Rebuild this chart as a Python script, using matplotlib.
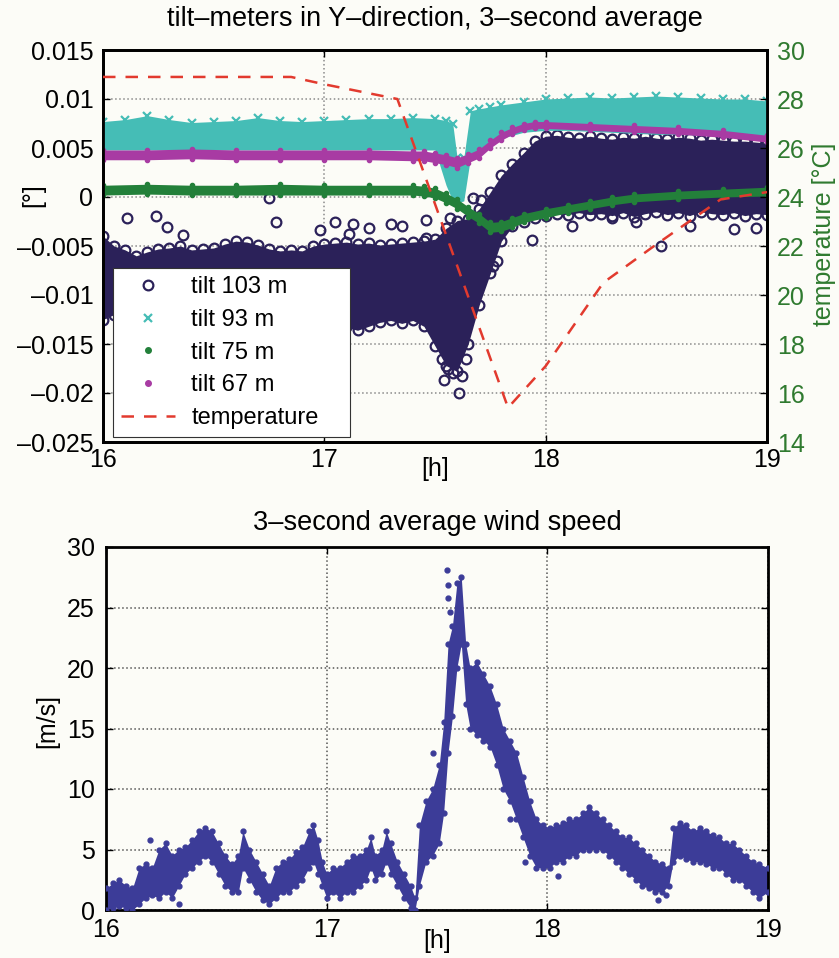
import numpy as np
import matplotlib
matplotlib.use("Agg")
import matplotlib.pyplot as plt
from matplotlib.lines import Line2D

plt.rcParams['font.family'] = ['Liberation Sans', 'DejaVu Sans']

# ---- tilt 103 m : dense band (upper / lower edge) + scattered outliers
t103 = [16.00, 16.05, 16.10, 16.15, 16.20, 16.25, 16.30, 16.35, 16.40, 16.45,
        16.50, 16.55, 16.60, 16.65, 16.70, 16.75, 16.80, 16.85, 16.90, 16.95,
        17.00, 17.05, 17.10, 17.15, 17.20, 17.25, 17.30, 17.35, 17.40, 17.45,
        17.50, 17.55, 17.60, 17.65, 17.70, 17.75, 17.80, 17.85, 17.90, 17.95,
        18.00, 18.05, 18.10, 18.15, 18.20, 18.25, 18.30, 18.35, 18.40, 18.45,
        18.50, 18.55, 18.60, 18.65, 18.70, 18.75, 18.80, 18.85, 18.90, 18.95,
        19.00]
hi103 = [-0.0040, -0.0050, -0.0054, -0.0060, -0.0056, -0.0053, -0.0052, -0.0050, -0.0054, -0.0053,
         -0.0052, -0.0048, -0.0045, -0.0046, -0.0049, -0.0053, -0.0055, -0.0054, -0.0055, -0.0050,
         -0.0048, -0.0047, -0.0046, -0.0048, -0.0047, -0.0049, -0.0048, -0.0047, -0.0046, -0.0045,
         -0.0043, -0.0032, -0.0024, -0.0022, -0.0012, 0.0005, 0.0022, 0.0034, 0.0045, 0.0057,
         0.0062, 0.0063, 0.0061, 0.0060, 0.0062, 0.0060, 0.0059, 0.0061, 0.0060, 0.0062,
         0.0060, 0.0059, 0.0061, 0.0060, 0.0058, 0.0059, 0.0058, 0.0057, 0.0057, 0.0056,
         0.0055]
lo103 = [-0.0125, -0.0120, -0.0113, -0.0112, -0.0112, -0.0112, -0.0112, -0.0112, -0.0112, -0.0112,
         -0.0112, -0.0112, -0.0112, -0.0112, -0.0112, -0.0112, -0.0115, -0.0118, -0.0120, -0.0122,
         -0.0125, -0.0128, -0.0133, -0.0136, -0.0132, -0.0128, -0.0126, -0.0129, -0.0126, -0.0132,
         -0.0152, -0.0172, -0.0178, -0.0150, -0.0110, -0.0078, -0.0045, -0.0030, -0.0025, -0.0021,
         -0.0019, -0.0017, -0.0018, -0.0016, -0.0018, -0.0017, -0.0019, -0.0016, -0.0020, -0.0017,
         -0.0015, -0.0018, -0.0016, -0.0019, -0.0015, -0.0017, -0.0018, -0.0016, -0.0019, -0.0017,
         -0.0018]
out103_t = [16.11, 16.24, 16.29, 16.36, 16.75, 16.78, 16.98, 17.05, 17.11, 17.13,
            17.20, 17.30, 17.35, 17.46, 17.46, 17.57, 17.67, 17.71, 17.54, 17.61,
            17.58, 17.62, 17.69, 17.72, 17.76, 17.78, 17.94, 18.30, 18.41, 18.52,
            18.85, 18.37, 18.96, 18.12, 18.65, 18.95, 17.53, 17.56, 17.64]
out103_v = [-0.0021, -0.0019, -0.0031, -0.0039, -0.0001, -0.0026, -0.0034, -0.0026, -0.0038, -0.0028,
            -0.0032, -0.0028, -0.0030, -0.0023, -0.0042, -0.0021, -0.0001, -0.0003, -0.0187, -0.0200,
            -0.0180, -0.0183, -0.0085, -0.0075, -0.0070, -0.0065, -0.0044, -0.0021, -0.0026, -0.0050,
            -0.0033, 0.0071, 0.0068, -0.0030, -0.0030, -0.0032, -0.0165, -0.0176, -0.0165]

# ---- tilt 93 m
t93 = [16.0, 16.1, 16.2, 16.3, 16.4, 16.5, 16.6, 16.7, 16.8, 16.9,
       17.0, 17.1, 17.2, 17.3, 17.4, 17.5, 17.55, 17.58, 17.60, 17.63,
       17.66, 17.70, 17.75, 17.80, 17.90, 18.0, 18.1, 18.2, 18.3, 18.4,
       18.5, 18.6, 18.7, 18.8, 18.9, 19.0]
hi93 = [0.0077, 0.0079, 0.0083, 0.0079, 0.0076, 0.0077, 0.0078, 0.0081, 0.0078, 0.0077,
        0.0078, 0.0079, 0.0080, 0.0080, 0.0081, 0.0080, 0.0078, 0.0075, 0.0040, 0.0040,
        0.0088, 0.0090, 0.0092, 0.0094, 0.0097, 0.0100, 0.0101, 0.0102, 0.0101, 0.0102,
        0.0103, 0.0102, 0.0101, 0.0100, 0.0100, 0.0098]
lo93 = [0.0048, 0.0048, 0.0048, 0.0048, 0.0048, 0.0048, 0.0048, 0.0048, 0.0048, 0.0048,
        0.0048, 0.0048, 0.0048, 0.0048, 0.0048, 0.0048, 0.0012, -0.0004, -0.0006, -0.0004,
        0.0040, 0.0045, 0.0052, 0.0060, 0.0066, 0.0068, 0.0068, 0.0067, 0.0066, 0.0065,
        0.0064, 0.0064, 0.0063, 0.0062, 0.0061, 0.0060]

# ---- tilt 75 m
t75 = [16.0, 16.2, 16.4, 16.6, 16.8, 17.0, 17.2, 17.4, 17.45, 17.5,
       17.55, 17.6, 17.65, 17.7, 17.75, 17.8, 17.85, 17.9, 18.0, 18.1,
       18.2, 18.3, 18.4, 18.6, 18.8, 19.0]
hi75 = [0.0012, 0.0013, 0.0012, 0.0012, 0.0013, 0.0012, 0.0012, 0.0012, 0.0011, 0.0009,
        0.0004, -0.0002, -0.0010, -0.0017, -0.0026, -0.0025, -0.0021, -0.0017, -0.0012, -0.0008,
        -0.0004, 0.0000, 0.0003, 0.0006, 0.0008, 0.0010]
lo75 = [0.0002, 0.0003, 0.0002, 0.0002, 0.0002, 0.0002, 0.0002, 0.0002, 0.0001, -0.0001,
        -0.0006, -0.0012, -0.0020, -0.0027, -0.0036, -0.0035, -0.0031, -0.0026, -0.0021, -0.0016,
        -0.0012, -0.0008, -0.0005, -0.0002, 0.0000, 0.0001]

# ---- tilt 67 m
t67 = [16.0, 16.2, 16.4, 16.6, 16.8, 17.0, 17.2, 17.4, 17.45, 17.5,
       17.55, 17.6, 17.65, 17.7, 17.75, 17.8, 17.85, 17.9, 17.95, 18.0,
       18.2, 18.4, 18.6, 18.8, 19.0]
hi67 = [0.0048, 0.0048, 0.0049, 0.0048, 0.0048, 0.0048, 0.0048, 0.0047, 0.0047, 0.0045,
        0.0043, 0.0040, 0.0044, 0.0049, 0.0058, 0.0066, 0.0071, 0.0075, 0.0077, 0.0077,
        0.0075, 0.0073, 0.0071, 0.0068, 0.0063]
lo67 = [0.0038, 0.0038, 0.0039, 0.0038, 0.0038, 0.0038, 0.0038, 0.0037, 0.0037, 0.0035,
        0.0033, 0.0030, 0.0035, 0.0040, 0.0050, 0.0058, 0.0064, 0.0068, 0.0070, 0.0070,
        0.0068, 0.0066, 0.0064, 0.0061, 0.0056]

# ---- temperature
temp_t = [16.0, 16.85, 17.0, 17.33, 17.83, 18.0, 18.26, 18.49, 18.79, 19.0]
temp_c = [28.9, 28.9, 28.6, 28.0, 15.4, 17.1, 20.5, 22.0, 23.9, 24.2]

# ---- wind speed (band edges)
wind_t = [16.00, 16.03, 16.06, 16.09, 16.12, 16.15, 16.18, 16.21, 16.24, 16.27,
          16.30, 16.33, 16.36, 16.39, 16.42, 16.45, 16.48, 16.51, 16.54, 16.57,
          16.60, 16.62, 16.65, 16.68, 16.71, 16.74, 16.77, 16.80, 16.83, 16.86,
          16.89, 16.92, 16.94, 16.96, 16.98, 17.00, 17.03, 17.06, 17.09, 17.12,
          17.15, 17.18, 17.20, 17.22, 17.25, 17.27, 17.29, 17.32, 17.35, 17.38,
          17.40, 17.42, 17.45, 17.48, 17.51, 17.53, 17.55, 17.57, 17.59, 17.61,
          17.63, 17.65, 17.68, 17.71, 17.74, 17.77, 17.80, 17.83, 17.86, 17.89,
          17.92, 17.95, 17.98, 18.01, 18.04, 18.07, 18.10, 18.13, 18.16, 18.19,
          18.22, 18.25, 18.28, 18.31, 18.34, 18.37, 18.40, 18.43, 18.46, 18.49,
          18.52, 18.55, 18.57, 18.60, 18.63, 18.66, 18.69, 18.72, 18.75, 18.78,
          18.81, 18.84, 18.87, 18.90, 18.93, 18.96, 19.00]
wind_lo = [0.0, 0.2, 0.3, 0.2, 0.0, 0.5, 1.0, 1.2, 1.0, 1.5,
           1.0, 2.0, 3.0, 3.5, 4.0, 4.5, 4.0, 3.0, 2.0, 1.5,
           1.5, 3.5, 2.5, 1.5, 0.8, 0.5, 1.0, 1.5, 1.5, 2.0,
           2.5, 3.5, 4.0, 3.0, 2.0, 1.0, 1.5, 1.0, 1.5, 1.5,
           2.0, 2.5, 3.5, 2.5, 3.0, 4.0, 3.0, 2.0, 1.0, 0.2,
           0.0, 2.0, 4.0, 4.5, 5.5, 8.0, 13.0, 16.0, 20.0, 22.0,
           17.0, 15.0, 14.5, 14.0, 13.5, 12.0, 10.0, 9.0, 7.5, 6.0,
           4.5, 3.5, 3.5, 3.5, 4.0, 4.0, 4.5, 4.5, 5.0, 5.0,
           5.0, 5.0, 4.5, 4.0, 3.5, 3.0, 2.5, 2.0, 1.8, 1.5,
           1.5, 2.0, 4.0, 4.5, 4.2, 4.0, 4.0, 3.8, 3.5, 3.5,
           3.0, 2.5, 2.5, 2.0, 1.5, 1.0, 1.5]
wind_hi = [1.8, 2.2, 2.5, 2.0, 1.8, 3.5, 3.8, 3.5, 5.0, 5.5,
           4.5, 5.0, 5.2, 5.8, 6.5, 6.8, 6.5, 5.5, 4.5, 3.8,
           4.5, 6.5, 5.0, 4.0, 3.0, 2.0, 3.5, 4.0, 4.2, 4.8,
           5.2, 6.5, 7.0, 5.8, 4.0, 3.0, 3.5, 3.5, 4.0, 4.5,
           4.5, 5.0, 6.0, 4.5, 5.0, 6.5, 5.5, 4.0, 3.0, 2.0,
           1.0, 7.0, 9.0, 10.0, 12.0, 15.5, 22.0, 23.5, 27.0, 27.5,
           22.0, 20.0, 20.5, 19.5, 18.5, 17.0, 15.0, 14.0, 13.0, 11.0,
           9.0, 7.5, 7.0, 6.8, 7.0, 7.2, 7.5, 7.5, 8.0, 8.5,
           8.0, 7.5, 7.0, 6.5, 6.0, 6.0, 5.5, 5.0, 4.5, 4.0,
           3.8, 3.5, 6.8, 7.2, 7.0, 6.5, 6.8, 6.5, 6.2, 6.0,
           5.5, 5.5, 5.0, 4.5, 4.0, 3.8, 3.5]
wind_out_t = [17.545, 17.55, 17.55, 17.56, 17.48, 17.83, 17.90, 18.05, 18.50, 18.54, 16.20, 16.33]
wind_out_v = [28.1, 26.9, 25.8, 24.6, 13.0, 7.5, 4.0, 2.8, 0.8, 1.2, 5.8, 0.5]

c103 = '#2b2159'
c93 = '#45bdb6'
c75 = '#23803a'
c67 = '#a83ba3'
ctemp = '#e23a2e'
cwind = '#3c3c98'
cgreen_txt = '#2f7a2f'
bg = '#fcfcf7'
fs = 18        # tick labels
fs_title = 19.5
fs_leg = 17
dash = '\u2013'

fig = plt.figure(figsize=(8.39, 9.58), dpi=100, facecolor=bg)

# ================= top panel =================
ax = fig.add_axes([103 / 839, 1 - 442 / 958, 664 / 839, 392 / 958])
ax.set_facecolor(bg)

ax.fill_between(t103, lo103, hi103, color=c103, linewidth=0, zorder=2)
ax.plot(t103, hi103, 'o', ms=7, mfc='none', mec=c103, mew=1.6, zorder=2)
ax.plot(t103, lo103, 'o', ms=7, mfc='none', mec=c103, mew=1.6, zorder=2)
ax.plot(out103_t, out103_v, 'o', ms=7, mfc='none', mec=c103, mew=1.6, zorder=2)

ax.fill_between(t93, lo93, hi93, color=c93, linewidth=0, zorder=3)
ax.plot(t93, hi93, 'x', ms=6, mec=c93, mew=1.6, zorder=3)

ax.fill_between(t75, lo75, hi75, color=c75, linewidth=0, zorder=4)
ax.plot(t75, hi75, 'o', ms=3, mfc=c75, mec=c75, zorder=4)
ax.plot(t75, lo75, 'o', ms=3, mfc=c75, mec=c75, zorder=4)

ax.fill_between(t67, lo67, hi67, color=c67, linewidth=0, zorder=5)
ax.plot(t67, hi67, 'o', ms=3, mfc=c67, mec=c67, zorder=5)
ax.plot(t67, lo67, 'o', ms=3, mfc=c67, mec=c67, zorder=5)

ax.set_xlim(16, 19)
ax.set_ylim(-0.025, 0.015)
yt = [-0.025, -0.02, -0.015, -0.01, -0.005, 0, 0.005, 0.01, 0.015]
ax.set_yticks(yt)
ax.set_yticklabels([('%g' % v).replace('-', dash) for v in yt])
ax.set_xticks([16, 17, 18, 19])
ax.grid(True, linestyle=':', color='#8a8a8a', linewidth=1.1)
ax.tick_params(direction='in', length=5, width=1, labelsize=fs, top=True,
               pad=7)
ax.tick_params(axis='x', pad=4)
ax.set_title('tilt' + dash + 'meters in Y' + dash + 'direction, 3' + dash
             + 'second average', fontsize=fs_title, pad=17)
ax.set_xlabel('[h]', fontsize=fs, va='center')
ax.xaxis.set_label_coords(0.5, -0.069)
ax.set_ylabel('[°]', fontsize=fs, va='center')
ax.yaxis.set_label_coords(-0.105, 0.63)

ax2 = ax.twinx()
ax2.plot(temp_t, temp_c, '--', color=ctemp, lw=1.8, dashes=(5, 4), zorder=6)
ax2.set_ylim(14, 30)
ax2.set_yticks(range(14, 31, 2))
ax2.tick_params(direction='in', length=5, width=1, labelsize=fs,
                colors='black', labelcolor=cgreen_txt, pad=7)
ax2.set_ylabel('temperature [°C]', fontsize=fs, color=cgreen_txt,
               va='center', rotation=90)
ax2.yaxis.set_label_coords(1.086, 0.53)

for a in (ax, ax2):
    for s in a.spines.values():
        s.set_linewidth(2)

handles = [
    Line2D([], [], ls='none', marker='o', ms=7, mfc='none', mec=c103, mew=1.6),
    Line2D([], [], ls='none', marker='x', ms=6, mec=c93, mew=1.6),
    Line2D([], [], ls='none', marker='o', ms=4, mfc=c75, mec=c75),
    Line2D([], [], ls='none', marker='o', ms=4, mfc=c67, mec=c67),
    Line2D([], [], ls='--', color=ctemp, lw=1.8, dashes=(5, 4)),
]
labels = ['tilt 103 m', 'tilt 93 m', 'tilt 75 m', 'tilt 67 m', 'temperature']
leg = ax2.legend(handles, labels, loc='lower left',
                 bbox_to_anchor=(0.015, 0.013, 0.357, 0.418), mode='expand',
                 borderaxespad=0, fontsize=fs_leg, frameon=True, fancybox=False,
                 edgecolor='#333333', facecolor='white', framealpha=1,
                 handlelength=2.3, labelspacing=0.46, borderpad=0.32,
                 handletextpad=0.7)
leg.get_frame().set_linewidth(0.8)

# ================= bottom panel =================
bx = fig.add_axes([106 / 839, 1 - 910 / 958, 662 / 839, 363 / 958])
bx.set_facecolor(bg)
bx.fill_between(wind_t, wind_lo, wind_hi, color=cwind, linewidth=0, zorder=2)
bx.plot(wind_t, wind_hi, 'o', ms=3.5, mfc=cwind, mec=cwind, zorder=3)
bx.plot(wind_t, wind_lo, 'o', ms=3.5, mfc=cwind, mec=cwind, zorder=3)
bx.plot(wind_out_t, wind_out_v, 'o', ms=3.5, mfc=cwind, mec=cwind, zorder=3)
bx.set_xlim(16, 19)
bx.set_ylim(0, 30)
bx.set_xticks([16, 17, 18, 19])
bx.set_yticks(range(0, 31, 5))
bx.grid(True, linestyle=':', color='#555555', linewidth=1.1)
bx.tick_params(direction='in', length=5, width=1, labelsize=fs, top=True,
               right=True, pad=8)
bx.tick_params(axis='x', pad=6)
for s in bx.spines.values():
    s.set_linewidth(2)
bx.set_title('3' + dash + 'second average wind speed', fontsize=fs_title, pad=12)
bx.set_xlabel('[h]', fontsize=fs, va='center')
bx.xaxis.set_label_coords(0.5, -0.086)
bx.set_ylabel('[m/s]', fontsize=fs, va='center')
bx.yaxis.set_label_coords(-0.088, 0.52)

fig.savefig('out.png', dpi=100, facecolor=bg)
